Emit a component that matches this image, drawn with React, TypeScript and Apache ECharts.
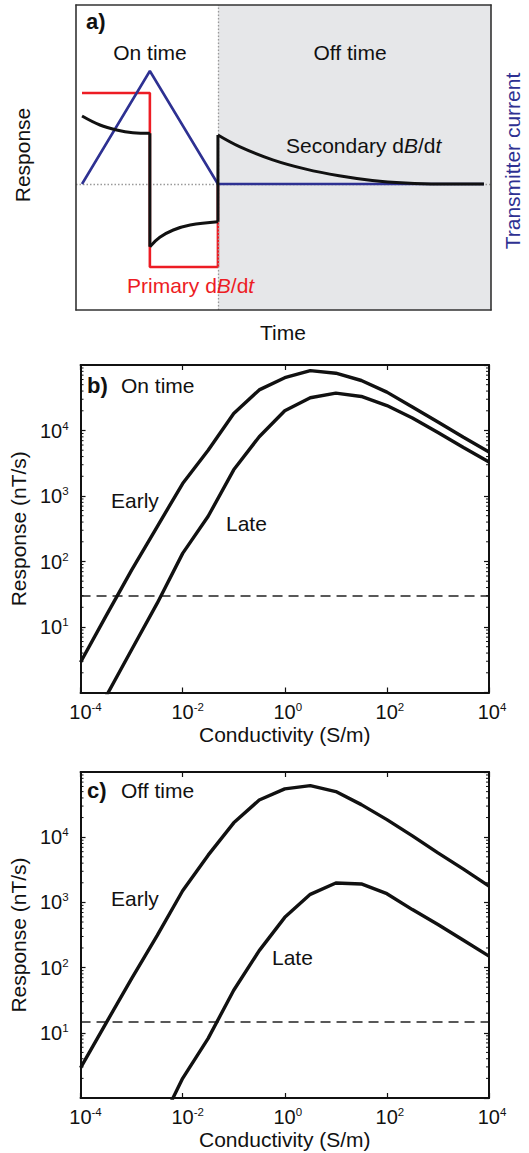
import React, { useEffect, useRef } from "react";
import * as echarts from "echarts";

// ---------- Panel a: schematic waveform (arbitrary time / response units) ----------
const pulseStart = 0.145;
const pulsePeak = 1.78;
const pulseEnd = 3.42;
const timeEnd = 9.83;
const timeAxisMax = 10;
const responseMin = -1.26;
const responseMax = 1.79;

const currentTimes = [pulseStart, pulsePeak, pulseEnd, timeEnd];
const currentValues = [0, 1.13, 0, 0];

const primaryTimes = [pulseStart, pulsePeak, pulsePeak, pulseEnd, pulseEnd];
const primaryValues = [0.91, 0.91, -0.83, -0.83, 0];

const rampUpTimes = [0.145, 0.578, 0.98, 1.37, 1.78];
const rampUpValues = [0.68, 0.59, 0.54, 0.513, 0.507];
const rampDownTimes = [1.78, 2.02, 2.345, 2.75, 3.42];
const rampDownValues = [-0.627, -0.533, -0.46, -0.41, -0.377];
const decayTimes = [3.42, 3.94, 4.74, 5.54, 6.34, 7.14, 7.94, 8.74, 9.83];
const decayValues = [0.49, 0.374, 0.242, 0.149, 0.083, 0.036, 0.01, 0, 0];

// ---------- Panels b, c: response vs conductivity ----------
const conductivity = [
  1e-4, 3.16e-4, 1e-3, 3.16e-3, 1e-2, 3.16e-2, 0.1, 0.316, 1, 3.16, 10, 31.6,
  100, 316, 1000, 3160, 1e4,
];
const onEarly = [
  2.9, 14.8, 74, 339, 1550, 5000, 18200, 41700, 64000, 82000, 75000, 58000,
  38500, 22900, 13500, 7900, 4700,
];
const onLate = [
  null, 0.87, 4.5, 22.9, 133, 490, 2510, 8040, 20000, 31600, 37200, 33100,
  24000, 15500, 9300, 5500, 3300,
];
const offEarly = [
  2.9, 14.1, 67.6, 309, 1510, 5300, 16600, 37200, 55000, 61700, 50100, 31600,
  18600, 10500, 5750, 3240, 1780,
];
const offLate = [
  null, null, null, 0.32, 2.0, 8.2, 45, 182, 590, 1330, 1980, 1920, 1360,
  776, 457, 263, 150,
];
const onThreshold = 30;
const offThreshold = 15;

const condMin = 1e-4;
const condMax = 1e4;
const respMin = 1;
const respMax = 1e5;
const minorTickValues = [1, 10, 100, 1000, 10000].flatMap((d) =>
  [2, 3, 4, 5, 6, 7, 8, 9].map((m) => m * d)
);

const FONT = "'Liberation Sans', Arial, Helvetica, sans-serif";
const INK = "#111111";
const RED = "#ed1c24";
const BLUE = "#2e3192";
const GREY = "#e6e7e9";
const DOT = "#9a9a9a";
const TXT = 21;

const zip = (xs: number[], ys: (number | null)[]) =>
  xs
    .map((x, i) => [x, ys[i]])
    .filter((p) => p[1] !== null && p[1] !== undefined) as number[][];

const expOf = (v: number) => Math.round(Math.log10(v));

const richLabel = {
  b: { fontSize: 20, fontFamily: FONT, color: INK, lineHeight: 22 },
  bn: { fontSize: 20, fontFamily: FONT, color: INK, lineHeight: 22, padding: [0, 0, 0, 10] },
  bp: { fontSize: 20, fontFamily: FONT, color: INK, lineHeight: 22, padding: [0, 0, 0, 6] },
  s: { fontSize: 11.5, fontFamily: FONT, color: INK, lineHeight: 10, verticalAlign: "top" },
};

function logX(gridIndex: number, position: "bottom" | "top", labels: boolean) {
  return {
    type: "log",
    logBase: 10,
    gridIndex,
    position,
    min: condMin,
    max: condMax,
    interval: 2,
    z: 10,
    axisLine: { show: true, onZero: false, lineStyle: { color: INK, width: 2 } },
    axisTick: { show: true, inside: true, length: 5, lineStyle: { color: INK, width: 1.2 } },
    splitLine: { show: false },
    minorTick: { show: false },
    axisLabel: labels
      ? {
          show: true,
          margin: 8,
          showMinLabel: true,
          showMaxLabel: true,
          formatter: (v: number) => {
            const e = expOf(v);
            return `{${e < 0 ? "bn" : "bp"}|10}{s|${e}}`;
          },
          rich: richLabel,
        }
      : { show: false },
    name: labels ? "Conductivity (S/m)" : "",
    nameLocation: "middle",
    nameGap: 31,
    nameTextStyle: { fontSize: TXT, fontFamily: FONT, color: INK },
  };
}

function logY(gridIndex: number, position: "left" | "right", labels: boolean) {
  return {
    type: "log",
    logBase: 10,
    gridIndex,
    position,
    min: respMin,
    max: respMax,
    z: 10,
    axisLine: { show: true, onZero: false, lineStyle: { color: INK, width: 2 } },
    axisTick: { show: true, inside: true, length: 5, lineStyle: { color: INK, width: 1.2 } },
    splitLine: { show: false },
    minorTick: { show: false },
    axisLabel: labels
      ? {
          show: true,
          margin: 12,
          showMinLabel: false,
          showMaxLabel: false,
          formatter: (v: number) => `{b|10}{s|${expOf(v)}}`,
          rich: richLabel,
        }
      : { show: false },
    name: labels ? "Response (nT/s)" : "",
    nameLocation: "middle",
    nameGap: 35,
    nameTextStyle: { fontSize: TXT, fontFamily: FONT, color: INK },
  };
}

function plainAxis(position: string, min: number, max: number) {
  return {
    type: "value",
    gridIndex: 0,
    position,
    min,
    max,
    z: 10,
    axisLine: { show: true, onZero: false, lineStyle: { color: "#333", width: 1.6 } },
    axisTick: { show: false },
    axisLabel: { show: false },
    splitLine: { show: false },
  };
}

function minorTicks(xAxisIndex: number, yAxisIndex: number) {
  return {
    type: "custom",
    xAxisIndex,
    yAxisIndex,
    silent: true,
    clip: false,
    z: 11,
    data: minorTickValues.map((v) => [condMin, v]),
    renderItem: (_p: any, api: any) => {
      const v = api.value(1);
      const l = api.coord([condMin, v]);
      const r = api.coord([condMax, v]);
      const st = { stroke: INK, lineWidth: 1 };
      return {
        type: "group",
        children: [
          { type: "line", shape: { x1: l[0], y1: l[1], x2: l[0] + 3, y2: l[1] }, style: st },
          { type: "line", shape: { x1: r[0] - 3, y1: r[1], x2: r[0], y2: r[1] }, style: st },
        ],
      };
    },
  };
}

function curve(xAxisIndex: number, yAxisIndex: number, ys: (number | null)[], extra: any = {}) {
  return {
    type: "line",
    xAxisIndex,
    yAxisIndex,
    data: zip(conductivity, ys),
    symbol: "none",
    clip: true,
    lineStyle: { color: INK, width: 3.4 },
    z: 5,
    ...extra,
  };
}

function threshold(value: number) {
  return {
    silent: true,
    symbol: ["none", "none"],
    label: { show: false },
    lineStyle: { color: "#222", width: 1.6, type: [10, 6] },
    data: [{ yAxis: value }],
  };
}

function txt(text: string, x: number, y: number, o: any = {}) {
  const align = o.align || "left";
  return {
    type: "text",
    x,
    y,
    rotation: o.rotation || 0,
    z: 100,
    style: {
      text,
      fontSize: o.size || TXT,
      fontFamily: FONT,
      fontWeight: o.weight || "normal",
      fill: o.color || INK,
      align,
      textAlign: align,
      verticalAlign: "middle",
      textVerticalAlign: "middle",
      rich: o.rich,
    },
  };
}

const italicRich = (color: string) => ({
  n: { fontSize: TXT, fontFamily: FONT, color, fill: color },
  i: { fontSize: TXT, fontFamily: FONT, fontStyle: "italic", color, fill: color },
});

function buildOption() {
  const blackLine = (data: number[][], smooth: number | boolean) => ({
    type: "line",
    xAxisIndex: 0,
    yAxisIndex: 0,
    data,
    smooth,
    symbol: "none",
    lineStyle: { color: INK, width: 3 },
    z: 6,
  });

  return {
    animation: false,
    backgroundColor: "#ffffff",
    grid: [
      { left: 76, top: 5, width: 415, height: 305 },
      { left: 75, top: 365, width: 414, height: 327.5 },
      { left: 74, top: 772, width: 415, height: 326 },
    ],
    xAxis: [
      plainAxis("bottom", 0, timeAxisMax),
      logX(1, "bottom", true),
      logX(1, "top", false),
      logX(2, "bottom", true),
      logX(2, "top", false),
      plainAxis("top", 0, timeAxisMax),
    ],
    yAxis: [
      plainAxis("left", responseMin, responseMax),
      logY(1, "left", true),
      logY(1, "right", false),
      logY(2, "left", true),
      logY(2, "right", false),
      plainAxis("right", responseMin, responseMax),
    ],
    series: [
      // background of panel a: off-time shading + dotted guides
      {
        type: "line",
        xAxisIndex: 0,
        yAxisIndex: 0,
        data: [],
        z: 1,
        markArea: {
          silent: true,
          itemStyle: { color: GREY },
          data: [[{ xAxis: pulseEnd }, { xAxis: timeAxisMax }]],
        },
        markLine: {
          silent: true,
          symbol: ["none", "none"],
          label: { show: false },
          lineStyle: { color: DOT, width: 1.3, type: [1.5, 2] },
          data: [{ xAxis: pulseEnd }, { yAxis: 0 }],
        },
      },
      {
        type: "line",
        xAxisIndex: 0,
        yAxisIndex: 0,
        data: zip(primaryTimes, primaryValues),
        symbol: "none",
        lineStyle: { color: RED, width: 2.6 },
        z: 4,
      },
      {
        type: "line",
        xAxisIndex: 0,
        yAxisIndex: 0,
        data: zip(currentTimes, currentValues),
        symbol: "none",
        lineStyle: { color: BLUE, width: 2.6 },
        z: 5,
      },
      blackLine(zip(rampUpTimes, rampUpValues), 0.4),
      blackLine(
        [
          [rampUpTimes[rampUpTimes.length - 1], rampUpValues[rampUpValues.length - 1]],
          [rampDownTimes[0], rampDownValues[0]],
        ],
        false
      ),
      blackLine(zip(rampDownTimes, rampDownValues), 0.4),
      blackLine(
        [
          [rampDownTimes[rampDownTimes.length - 1], rampDownValues[rampDownValues.length - 1]],
          [decayTimes[0], decayValues[0]],
        ],
        false
      ),
      blackLine(zip(decayTimes, decayValues), 0.4),

      // panel b
      curve(1, 1, onEarly, { markLine: threshold(onThreshold) }),
      curve(1, 1, onLate),
      minorTicks(1, 1),
      // panel c
      curve(3, 3, offEarly, { markLine: threshold(offThreshold) }),
      curve(3, 3, offLate),
      minorTicks(3, 3),
    ],
    graphic: [
      txt("a)", 86, 21, { weight: "bold", size: 22 }),
      txt("On time", 150, 52, { align: "center" }),
      txt("Off time", 350, 52, { align: "center" }),
      txt("{n|Secondary d}{i|B}{n|/d}{i|t}", 286, 145, { rich: italicRich(INK) }),
      txt("{n|Primary d}{i|B}{n|/d}{i|t}", 127, 285, { rich: italicRich(RED), color: RED }),
      txt("Response", 22, 155, { align: "center", rotation: Math.PI / 2 }),
      txt("Transmitter current", 512, 161, { align: "center", rotation: Math.PI / 2, color: BLUE }),
      txt("Time", 283, 332, { align: "center" }),

      txt("b)", 87, 385, { weight: "bold", size: 22 }),
      txt("On time", 121, 385),
      txt("Early", 111, 500),
      txt("Late", 226, 523),

      txt("c)", 87, 790, { weight: "bold", size: 22 }),
      txt("Off time", 121, 790),
      txt("Early", 111, 898),
      txt("Late", 272, 957),
    ],
  };
}

export default function App() {
  const ref = useRef<HTMLDivElement>(null);
  useEffect(() => {
    if (!ref.current) return;
    const chart = echarts.init(ref.current, null, { renderer: "svg" });
    chart.setOption(buildOption() as any);
    return () => chart.dispose();
  }, []);
  return (
    <div
      ref={ref}
      style={{ position: "absolute", left: 0, top: 0, width: 529, height: 1153, background: "#fff" }}
    />
  );
}
